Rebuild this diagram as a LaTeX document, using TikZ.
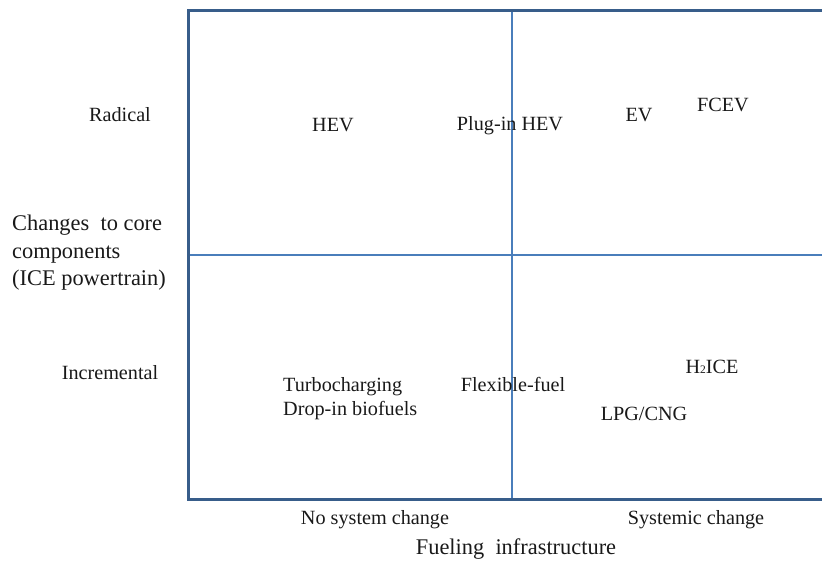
\documentclass[tikz,border=0pt]{standalone}
\usepackage{fontspec}
\setmainfont{Liberation Serif}
\definecolor{frameblue}{HTML}{385D8A}
\definecolor{lineblue}{HTML}{4A7EBB}
\tikzset{
  lbl/.style={font=\fontsize{20.2}{24}\selectfont, inner sep=0pt, text=black!90},
  ttl/.style={font=\fontsize{22.4}{27.5}\selectfont, inner sep=0pt, text=black!90},
  outer/.style={draw=frameblue, line width=3pt},
  inner/.style={draw=lineblue, line width=2.2pt}
}
\begin{document}
\begin{tikzpicture}[x=1pt,y=-1pt]
\useasboundingbox (0,0) rectangle (822,562);
\coordinate (tl) at (188,10);
\coordinate (tr) at (824,10);
\coordinate (bl) at (188,499);
\coordinate (br) at (824,499);
\coordinate (ml) at (188,255);
\coordinate (mr) at (824,255);
\coordinate (mt) at (512,10);
\coordinate (mb) at (512,499);
\draw[inner] (ml) -- (mr);
\draw[inner] (mt) -- (mb);
\draw[outer] (tr) -- (tl) -- (bl) -- (br);

\node[lbl] (radical) at (120,115) {Radical};
\node[lbl] (incr) at (110,373) {Incremental};
\node[ttl, align=left, anchor=west] (core) at (12,253) {Changes\ \ to core\\components\\(ICE powertrain)};

\node[lbl] (hev) at (333,125) {HEV};
\node[lbl] (phev) at (510,126) {Plug-in HEV};
\node[lbl] (ev) at (639,115) {EV};
\node[lbl] (fcev) at (723,105) {FCEV};

\node[lbl, align=left, anchor=west] (turbo) at (283,399) {Turbocharging\\Drop-in biofuels};
\node[lbl] (flex) at (513,384) {Flexible-fuel};
\node[lbl] (h2) at (712,367) {H{\fontsize{11.5}{11.5}\selectfont 2}ICE};
\node[lbl] (lpg) at (644,414) {LPG/CNG};

\node[lbl] (nosys) at (375,520) {No system change};
\node[lbl] (sysc) at (696,520) {Systemic change};
\node[ttl] (fuel) at (516,549) {Fueling\ \ infrastructure};
\end{tikzpicture}
\end{document}
